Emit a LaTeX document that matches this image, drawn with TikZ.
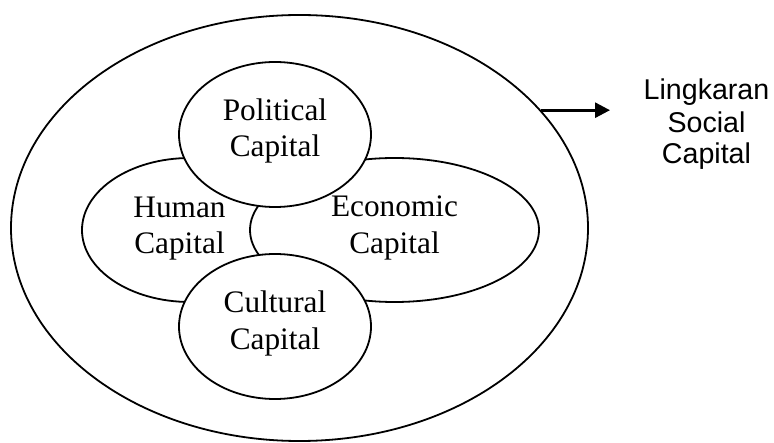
\documentclass[tikz,border=0pt]{standalone}
\usepackage{fontspec}
\setmainfont{Liberation Serif}
\newfontfamily\labelsans{Liberation Sans}
\usetikzlibrary{shapes.geometric,arrows.meta}
\begin{document}
\begin{tikzpicture}[x=1pt,y=-1pt,
  ring/.style={ellipse, draw, fill=white, line width=1.8pt, inner sep=0pt},
  captxt/.style={anchor=base, inner sep=0pt, font=\fontsize{31.3}{36}\selectfont},
  sidetxt/.style={anchor=base, inner sep=0pt, font=\labelsans\fontsize{28.6}{32}\selectfont},
  pointer/.style={line width=2.8pt, -{Triangle[length=15pt,width=15pt]}}]
\useasboundingbox (0,0) rectangle (774,443);

% outer circle of social capital
\node[ring, minimum width=577pt, minimum height=426pt] (social) at (299.5,228) {};

% the four capitals, drawn back to front
\node[ring, minimum width=216pt, minimum height=144pt] (human) at (190,230) {};
\node[ring, minimum width=289pt, minimum height=144pt] (economic) at (394.5,230) {};
\node[ring, minimum width=192pt, minimum height=145pt] (political) at (275,134.5) {};
\node[ring, minimum width=192pt, minimum height=145pt] (cultural) at (275,326.5) {};

% labels inside the circles
\node[captxt] (pol1) at (275,121) {Political};
\node[captxt] (pol2) at (275,157) {Capital};
\node[captxt] (hum1) at (179.5,217.3) {Human};
\node[captxt] (hum2) at (179.5,254) {Capital};
\node[captxt] (eco1) at (394.5,217) {Economic};
\node[captxt] (eco2) at (394.5,254) {Capital};
\node[captxt] (cul1) at (275,312.7) {Cultural};
\node[captxt] (cul2) at (275,349.5) {Capital};

% side caption and its pointer
\node[sidetxt] (side1) at (706.5,99.3) {Lingkaran};
\node[sidetxt] (side2) at (706.5,132.7) {Social};
\node[sidetxt] (side3) at (706.5,163.5) {Capital};

\coordinate (tip) at (610,110.7);
\draw[pointer] (social.26) -- (social.26 -| tip);
\end{tikzpicture}
\end{document}
